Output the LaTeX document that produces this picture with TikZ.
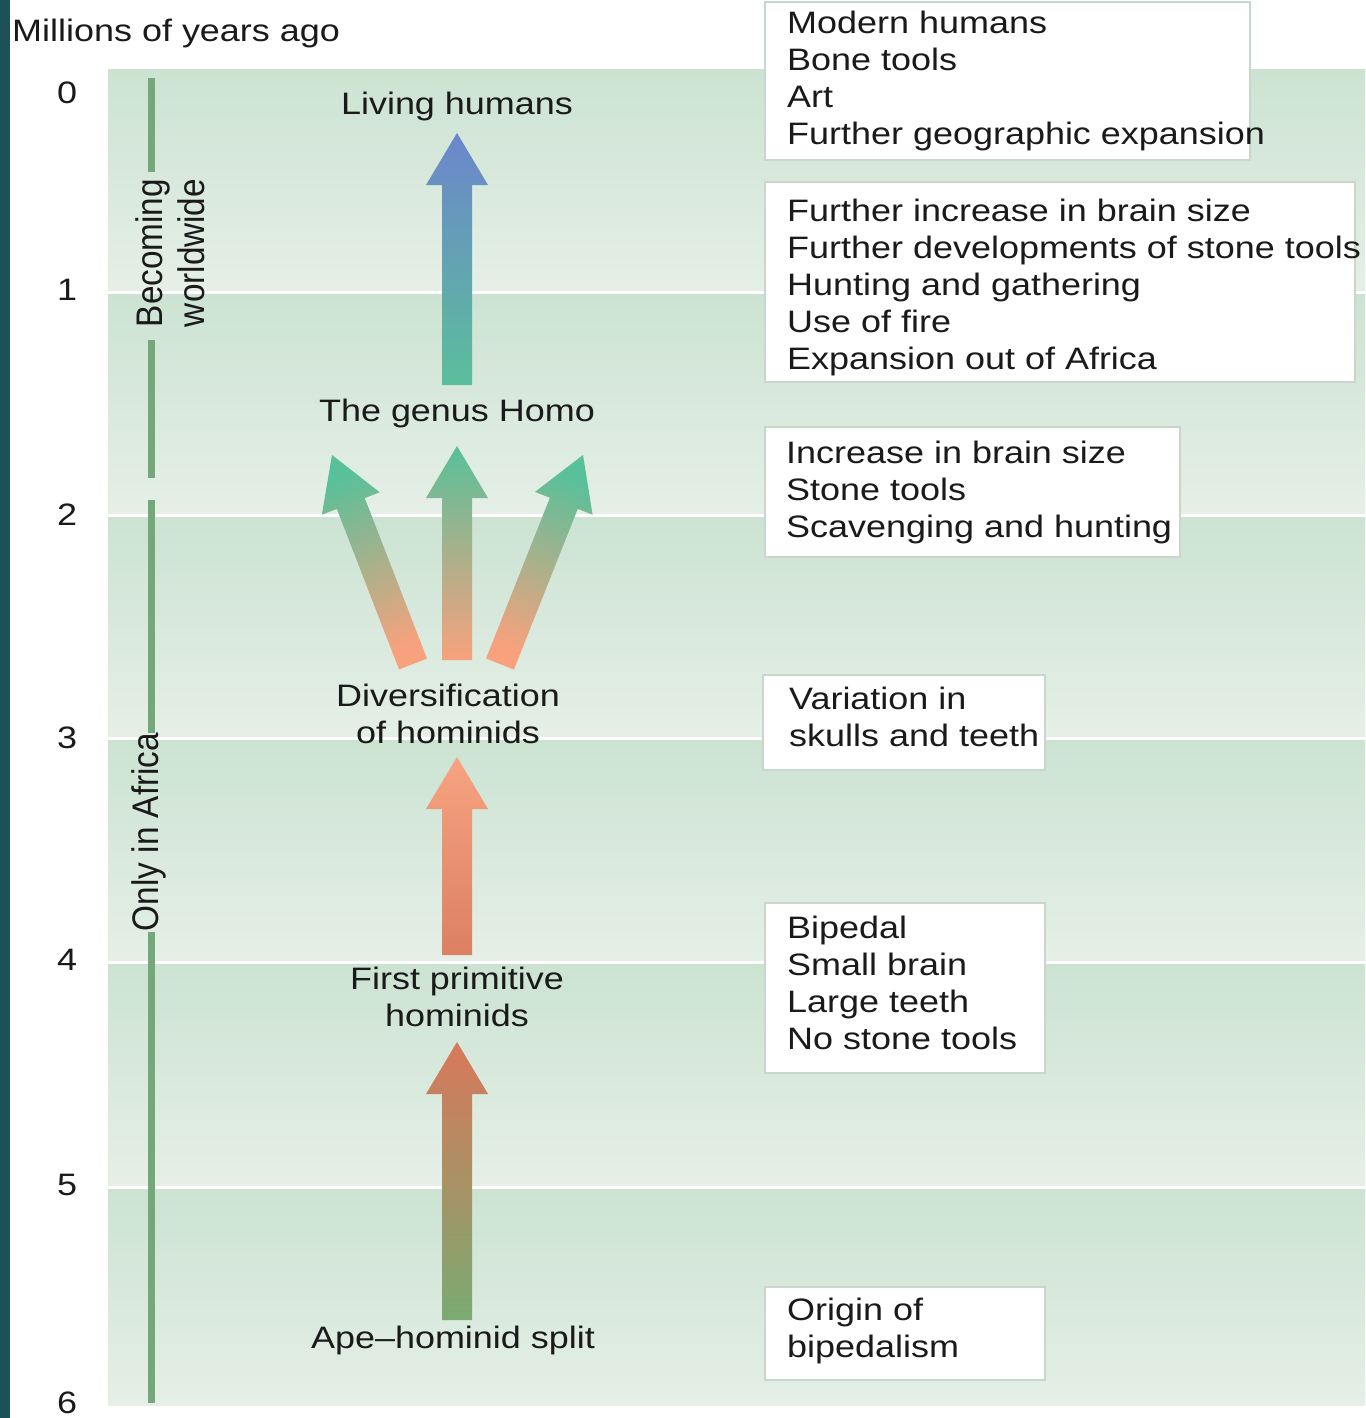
\documentclass[tikz,border=0pt]{standalone}
\usepackage{fontspec}
\setmainfont[FakeStretch=1.16]{Liberation Sans}
\newfontfamily\rotfont[FakeStretch=0.9]{Liberation Sans}
\usetikzlibrary{calc}

\definecolor{edgeteal}{RGB}{30,80,88}
\definecolor{bandtop}{RGB}{204,227,210}
\definecolor{bandbot}{RGB}{229,239,231}
\definecolor{barline}{RGB}{116,168,122}
\definecolor{boxline}{RGB}{200,214,203}
\definecolor{txt}{RGB}{26,26,26}

\newcommand{\labfont}{\fontsize{31}{37}\selectfont}
\newcommand{\sidefont}{\rotfont\fontsize{37}{42}\selectfont}

\tikzset{
  infobox/.style={rectangle,draw=boxline,line width=2pt,fill=white},
  boxtext/.style={anchor=west,align=left,inner sep=0pt,font=\labfont,text=txt},
  lbl/.style={inner sep=0pt,font=\labfont,text=txt},
  sidelbl/.style={rotate=90,inner sep=0pt,font=\sidefont,text=txt},
  bar/.style={barline,line width=7pt}
}

% block arrow: start, tip, bottom colour, top colour, shading angle
\newcommand{\fatarrow}[5]{%
  \coordinate (hb) at ($(#2)!52pt!(#1)$);
  \shade[bottom color=#3,top color=#4,shading angle=#5]
    ($(#1)!15pt!90:(#2)$) -- ($(hb)!15pt!90:(#2)$) -- ($(hb)!31pt!90:(#2)$) -- (#2)
    -- ($(hb)!31pt!-90:(#2)$) -- ($(hb)!15pt!-90:(#2)$) -- ($(#1)!15pt!-90:(#2)$) -- cycle;
}

\begin{document}
\begin{tikzpicture}[x=1pt,y=-1pt]
    \useasboundingbox (0,0) rectangle (1365,1418);
    \fill[white] (0,0) rectangle (1365,1418);
    \fill[edgeteal] (0,0) rectangle (10,1418);

    % Time bands
    \foreach \t/\b in {70/290,294/513,517/736,740/960,964/1185,1189/1405}
        \shade[top color=bandtop,bottom color=bandbot] (108,\t) rectangle (1365,\b);

    % Scale
    \node[anchor=west,lbl] (scale) at (12,33) {Millions of years ago};
    \foreach \n/\y in {0/93,1/290,2/515,3/738,4/960,5/1185,6/1403}
        \node[lbl] (tick\n) at (67,\y) {\n};

    % Range bar
    \draw[bar] (151,78) -- (151,172);
    \draw[bar] (151,340) -- (151,478);
    \draw[bar] (151,500) -- (151,733);
    \draw[bar] (151,932) -- (151,1403);
    \node[sidelbl,align=center] (world) at (170,253) {Becoming\\worldwide};
    \node[sidelbl] (africa) at (149,832) {Only in Africa};

    % Stages
    \node[lbl] (living) at (457,106) {Living humans};
    \node[lbl] (homo) at (457,413) {The genus Homo};
    \node[lbl,align=center] (divers) at (448,714) {Diversification\\of hominids};
    \node[lbl,align=center] (first) at (457,997) {First primitive\\hominids};
    \node[lbl] (split) at (453,1340) {Ape--hominid split};

    % Arrows
    \coordinate (a1s) at (457,1320);  \coordinate (a1t) at (457,1042);
    \coordinate (a2s) at (457,955);   \coordinate (a2t) at (457,757);
    \coordinate (a3s) at (457,660);   \coordinate (a3t) at (457,446);
    \coordinate (a3ls) at (413,664);  \coordinate (a3lt) at (332,455);
    \coordinate (a3rs) at (500,664);  \coordinate (a3rt) at (583,455);
    \coordinate (a4s) at (457,385);   \coordinate (a4t) at (457,133);
    \fatarrow{a1s}{a1t}{{rgb,255:red,122;green,171;blue,114}}{{rgb,255:red,216;green,120;blue,90}}{0}
    \fatarrow{a2s}{a2t}{{rgb,255:red,220;green,128;blue,98}}{{rgb,255:red,247;green,163;blue,128}}{0}
    \fatarrow{a3s}{a3t}{{rgb,255:red,248;green,162;blue,125}}{{rgb,255:red,88;green,192;blue,154}}{0}
    \fatarrow{a3ls}{a3lt}{{rgb,255:red,248;green,162;blue,125}}{{rgb,255:red,88;green,192;blue,154}}{21}
    \fatarrow{a3rs}{a3rt}{{rgb,255:red,248;green,162;blue,125}}{{rgb,255:red,88;green,192;blue,154}}{-21}
    \fatarrow{a4s}{a4t}{{rgb,255:red,92;green,190;blue,155}}{{rgb,255:red,108;green,134;blue,204}}{0}

    % Traits
    \node[infobox,minimum width=485pt,minimum height=158pt] (box1) at (1007.5,81) {};
    \node[boxtext] (txt1) at (787,81) {Modern humans\\Bone tools\\Art\\Further geographic expansion};
    \node[infobox,minimum width=590pt,minimum height=200pt] (box2) at (1060,282) {};
    \node[boxtext] (txt2) at (787,287) {Further increase in brain size\\Further developments of stone tools\\Hunting and gathering\\Use of fire\\Expansion out of Africa};
    \node[infobox,minimum width=415pt,minimum height=130pt] (box3) at (972.5,492) {};
    \node[boxtext] (txt3) at (786,492) {Increase in brain size\\Stone tools\\Scavenging and hunting};
    \node[infobox,minimum width=282pt,minimum height=95pt] (box4) at (904,722.5) {};
    \node[boxtext] (txt4) at (789,717) {Variation in\\skulls and teeth};
    \node[infobox,minimum width=280pt,minimum height=170pt] (box5) at (905,988) {};
    \node[boxtext] (txt5) at (787,983) {Bipedal\\Small brain\\Large teeth\\No stone tools};
    \node[infobox,minimum width=280pt,minimum height=93pt] (box6) at (905,1333.5) {};
    \node[boxtext] (txt6) at (787,1331) {Origin of\\bipedalism};
\end{tikzpicture}
\end{document}
